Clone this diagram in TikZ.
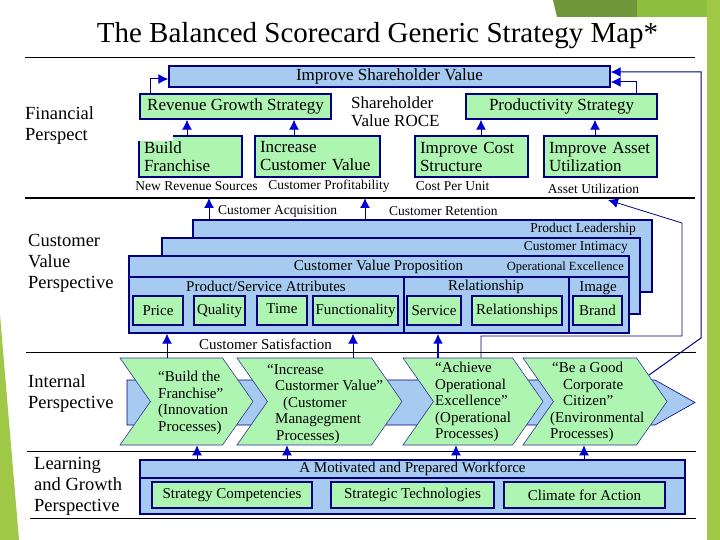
\documentclass[tikz,border=0pt]{standalone}
\usepackage{fontspec}
\setmainfont{Liberation Serif}
\usepackage{xcolor}
\usepackage{tikz}
\usetikzlibrary{arrows.meta, shapes.symbols, positioning}

\definecolor{boxblue}{RGB}{166,202,240}
\definecolor{boxgreen}{RGB}{175,245,178}
\definecolor{navy}{RGB}{0,0,128}
\definecolor{tipblue}{RGB}{0,0,215}
\definecolor{slideolive}{RGB}{112,150,58}
\definecolor{slidegreen}{RGB}{141,190,62}
\definecolor{slidelime}{RGB}{158,200,70}

\begin{document}
\begin{tikzpicture}[
    x=1pt, y=-1pt,
    fin box/.style={rectangle, draw=navy, line width=1.4pt, fill=boxgreen, inner sep=0pt, font=\fontsize{17}{18}\selectfont},
    top box/.style={fin box, fill=boxblue},
    two line/.style={fin box, align=left, inner xsep=5pt, minimum height=41pt},
    attr box/.style={fin box, minimum height=29pt, font=\fontsize{15}{16}\selectfont},
    work box/.style={fin box, minimum height=26pt, font=\fontsize{15}{16}\selectfont},
    layer/.style={rectangle, draw=navy, line width=1.4pt, fill=boxblue, inner sep=0pt},
    chev/.style={signal, signal from=west, signal to=east, signal pointer angle=110, draw=navy!80, line width=0.6pt, fill=boxgreen, inner sep=0pt, minimum height=87pt},
    chev text/.style={align=left, anchor=north west, inner sep=0pt, font=\fontsize{15}{16.5}\selectfont},
    small label/.style={inner sep=0pt, font=\fontsize{13.5}{14}\selectfont},
    mid label/.style={inner sep=0pt, font=\fontsize{15}{16}\selectfont},
    persp label/.style={align=left, anchor=west, inner sep=0pt, font=\fontsize{18.5}{21}\selectfont},
    link/.style={-{Latex[length=10pt,width=10pt,color=tipblue]}, draw=navy, line width=1pt},
    rule/.style={line width=0.8pt}
]
\useasboundingbox (0,0) rectangle (720,540);

% Achtergrond
\fill[white] (0,0) rectangle (720,540);
\fill[slideolive] (553,0) -- (640,0) -- (640,17) -- (557,17) -- cycle;
\fill[slidegreen] (637,0) rectangle (707,17);
\fill[slidelime] (707,0) rectangle (720,540);
\fill[slidelime] (0,315) -- (19,540) -- (0,540) -- cycle;

\node[font=\fontsize{29}{30}\selectfont, anchor=base] (title) at (377.5,43) {The Balanced Scorecard Generic Strategy Map*};

% Scheidingslijnen
\draw[rule] (25,57) -- (695,57);
\coordinate (fl-w) at (25,198);
\coordinate (fl-e) at (695,198);
\draw[line width=2pt] (fl-w) -- (fl-e);
\draw[rule] (26,352) -- (696,352);
\draw[rule] (27,451) -- (696,451);
\draw[rule] (30,518) -- (696,518);

% Financieel
\node[top box, minimum width=441pt, minimum height=21pt] (isv) at (389.5,76.5) {Improve Shareholder Value};
\node[fin box, minimum width=191pt, minimum height=25pt] (rgs) at (235.5,106.5) {Revenue Growth Strategy};
\node[fin box, minimum width=191pt, minimum height=25pt] (ps) at (561.5,106.5) {Productivity Strategy};
\node[align=left, anchor=west, inner sep=0pt, font=\fontsize{17}{18}\selectfont] (roce) at (351,112) {Shareholder\\Value ROCE};

\node[two line, text width=93pt] (bf) at (190.5,156.5) {Build\\Franchise};
\node[two line, text width=115pt] (icv) at (317.5,156.5) {Increase\\Customer Value};
\node[two line, text width=103pt] (ics) at (471.5,156.5) {Improve Cost\\Structure};
\node[two line, text width=103pt] (iau) at (600.5,156.5) {Improve Asset\\Utilization};

\node[small label] (nrs) at (196.5,186) {New Revenue Sources};
\node[small label] (cpr) at (329,186) {Customer Profitability};
\node[small label] (cpu) at (452.5,186) {Cost Per Unit};
\node[small label] (aut) at (593.5,189) {Asset Utilization};

\fill[white] (130,126) rectangle (173,141);
\node[persp label] (lfin) at (25,125.5) {Financial\\Perspect};

% Klant
\node[layer, minimum width=459pt, minimum height=72pt] (pl) at (422.5,256) {};
\node[small label, anchor=east] (plt) at (636,229) {Product Leadership};
\node[layer, minimum width=478pt, minimum height=76pt] (ci) at (401,276) {};
\node[small label, anchor=east] (cit) at (628,247) {Customer Intimacy};
\node[layer, minimum width=500pt, minimum height=77pt] (cvp) at (379,294.5) {};
\draw[navy, line width=1.4pt] (129,277) -- (629,277);
\draw[navy, line width=1.4pt] (404,277) -- (404,333);
\draw[navy, line width=1.4pt] (569,277) -- (569,333);
\node[mid label] (cvpt) at (378.5,267) {Customer Value Proposition};
\node[inner sep=0pt, anchor=east, font=\fontsize{12.5}{13}\selectfont] (oet) at (624,267) {Operational Excellence};
\node[mid label] (psa) at (266,286) {Product/Service Attributes};
\node[mid label] (rel) at (486,287) {Relationship};
\node[mid label] (img) at (598,288) {Image};

\node[attr box, minimum width=50pt] (price) at (158,310.5) {Price};
\node[attr box, minimum width=51pt] (qual) at (219.5,310.5) {Quality};
\node[attr box, minimum width=50pt] (time) at (282,310.5) {\raisebox{3pt}{Time}};
\node[attr box, minimum width=85pt] (func) at (355.5,310.5) {Functionality};
\node[attr box, minimum width=54pt] (serv) at (434,310.5) {Service};
\node[attr box, minimum width=90pt] (rels) at (517,310.5) {Relationships};
\node[attr box, minimum width=49pt] (brand) at (597.5,310.5) {Brand};

\node[small label, anchor=west] (cacq) at (218,211) {Customer Acquisition};
\node[small label, anchor=west] (cret) at (389,211) {Customer Retention};
\node[mid label] (csat) at (265.5,344) {Customer Satisfaction};

\node[persp label] (lcus) at (28,263) {Customer\\Value\\Perspective};

% Intern
\draw[navy, line width=0.6pt, fill=boxblue] (127,380) -- (655,380) -- (695,402.5) -- (655,425) -- (127,425) -- cycle;
\node[chev, minimum width=133pt] (ch1) at (186.5,401.5) {};
\node[chev, minimum width=165pt] (ch2) at (319.5,401.5) {};
\node[chev, minimum width=140pt] (ch3) at (473,401.5) {};
\node[chev, minimum width=144pt] (ch4) at (595,401.5) {};

\node[chev text] (ch1t) at (158,371) {“Build the\\Franchise”\\(Innovation\\Processes)};
\node[chev text] (ch2t) at (267,364) {“Increase\\\hspace{8pt}Custormer Value”\\\hspace{16pt}(Customer\\\hspace{8pt}Managegment\\\hspace{9pt}Processes)};
\node[chev text] (ch3t) at (435,362) {“Achieve\\Operational\\Excellence”\\(Operational\\Processes)};
\node[chev text] (ch4t) at (550,362) {\hspace{2pt}“Be a Good\\\hspace{13pt}Corporate\\\hspace{13pt}Citizen”\\(Environmental\\Processes)};

\node[persp label] (lint) at (28,394) {Internal\\Perspective};

% Leren en groei
\node[layer, minimum width=545pt, minimum height=54pt] (mw) at (412.5,487) {};
\draw[navy, line width=1.4pt] (140,478) -- (685,478);
\node[mid label] (mwt) at (412.5,469) {A Motivated and Prepared Workforce};
\node[work box, minimum width=160pt] (sc) at (232,495) {Strategy Competencies};
\node[work box, minimum width=163pt] (st) at (412.5,495) {Strategic Technologies};
\node[work box, minimum width=161pt] (cfa) at (584.5,495) {Climate for Action};

\node[persp label] (llg) at (34,486) {Learning\\and Growth\\Perspective};

% Pijlen
\coordinate (ch4-edge) at (649,375);
\coordinate (au-in) at (608,200);
\draw[link] ([xshift=11pt]rgs.north west) |- ([yshift=-2.5pt]isv.west);
\draw[link] ([xshift=-21pt]ps.north east) |- ([yshift=-5.5pt]isv.east);
\draw[link] (ch4-edge) -- (701,338) |- ([yshift=4.5pt]isv.east);
\draw[link] ([xshift=-3.5pt]bf.north) -- ([xshift=-3.5pt]bf.north |- rgs.south);
\draw[link] ([xshift=-23.5pt]icv.north) -- ([xshift=-23.5pt]icv.north |- rgs.south);
\draw[link] ([xshift=9.5pt]ics.north) -- ([xshift=9.5pt]ics.north |- ps.south);
\draw[link] ([xshift=-5.5pt]iau.north) -- ([xshift=-5.5pt]iau.north |- ps.south);
\draw[link] ([xshift=-213.5pt]pl.north) -- ([xshift=-213.5pt]pl.north |- fl-w);
\draw[link] ([xshift=-57.5pt]pl.north) -- ([xshift=-57.5pt]pl.north |- fl-w);
\draw[link, line width=0.8pt] ([xshift=8pt]ch3.north) |- (682,336) -- (682,223) -- (au-in);
\draw[link] ([xshift=-19.5pt]ch1.north) -- ([xshift=-19.5pt]ch1.north |- cvp.south);
\draw[link] ([xshift=33.5pt]ch2.north) -- ([xshift=33.5pt]ch2.north |- cvp.south);
\draw[link, draw=tipblue, line width=1.8pt] ([xshift=-35pt]ch3.north) -- ([xshift=-35pt]ch3.north |- cvp.south);
\foreach \nm/\dx in {ch1/10.5, ch2/-32.5, ch3/-17, ch4/-11} {
    \draw[link] ([xshift=\dx pt]\nm.south |- mw.north) -- ([xshift=\dx pt]\nm.south);
}

\end{tikzpicture}
\end{document}
